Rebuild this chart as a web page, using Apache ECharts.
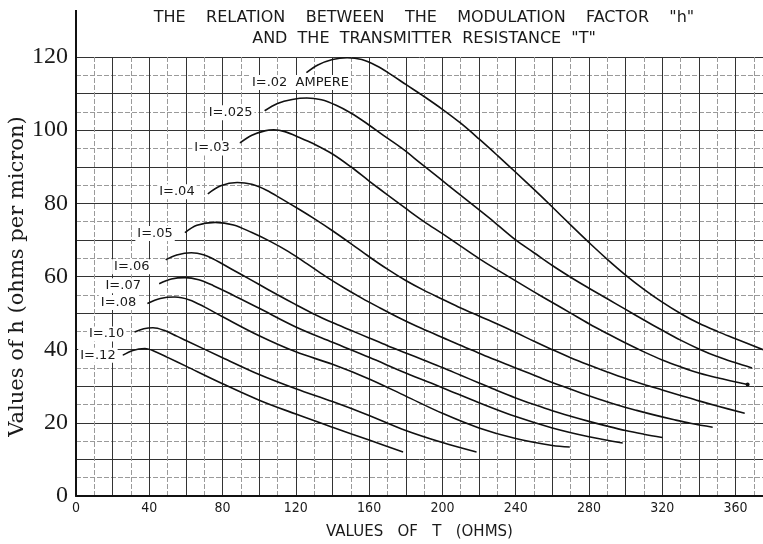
<!DOCTYPE html>
<html>
<head>
<meta charset="utf-8">
<script src="https://cdn.jsdelivr.net/npm/echarts@6/dist/echarts.min.js"></script>
<style>
  html, body { margin: 0; padding: 0; background: #fff; }
  #chart { width: 763px; height: 544px; }
</style>
</head>
<body>
<div id="chart"></div>
<script>
// Modulation factor h (ohms per micron) against transmitter resistance T (ohms),
// one curve per current I (amperes). Each point is [T, h].
const curveNames = ['I=.02  AMPERE', 'I=.025', 'I=.03', 'I=.04', 'I=.05', 'I=.06', 'I=.07', 'I=.08', 'I=.10', 'I=.12'];

const i020 = [[125.8,115.7],[132,117.8],[140,119.3],[148,119.8],[156,119.3],[164,117.6],[172,115.2],[180,112.5],[190,109.2],[200,105.7],[210,101.9],[220,97.6],[230,93.1],[240,88.5],[250,83.8],[260,79],[270,74.1],[280,69.3],[290,64.7],[300,60.4],[310,56.5],[320,53],[330,49.9],[340,47.2],[350,45],[360,43],[375,40]];
const i025 = [[103,105.3],[110,107.3],[118,108.4],[126,108.8],[134,108.3],[142,106.8],[150,104.7],[158,102.1],[168,98.5],[178,95],[188,91],[198,87],[208,83],[218,79],[228,75],[240,70],[250,66.5],[260,63],[270,59.8],[280,56.8],[290,53.9],[300,51],[310,48.1],[320,45.3],[330,42.6],[340,40.2],[350,38.1],[360,36.4],[369,35]];
const i030 = [[89.5,96.5],[96,98.6],[103,99.8],[108,100.1],[114,99.6],[122,98],[130,96.2],[140,93.5],[150,90],[160,86.1],[170,82.3],[180,78.6],[190,75],[200,71.7],[210,68.3],[220,64.9],[230,61.8],[240,58.8],[250,55.8],[260,52.9],[270,50],[280,47.1],[290,44.4],[300,41.8],[310,39.4],[320,37.2],[330,35.3],[340,33.6],[350,32.3],[366.6,30.5]];
const i040 = [[72,82.6],[79,84.8],[88,85.7],[96,85.2],[104,83.6],[112,81.3],[122,78.3],[130,75.8],[140,72.5],[150,69],[160,65.4],[170,62],[180,58.9],[190,56.2],[200,53.8],[210,51.4],[220,49.2],[230,47],[240,44.7],[250,42.3],[260,40],[270,37.8],[280,35.8],[290,33.9],[300,32.1],[310,30.5],[320,29],[330,27.5],[340,26],[350,24.6],[365,22.6]];
const i050 = [[59.5,72],[66,74],[76,74.8],[86,74.1],[96,72],[106,69.6],[116,66.8],[126,63.5],[136,60.1],[146,57],[156,54.1],[166,51.4],[176,48.8],[186,46.4],[196,44.2],[206,42],[216,39.9],[226,37.8],[236,35.8],[246,33.8],[256,31.8],[266,29.9],[276,28.1],[286,26.4],[296,24.8],[306,23.4],[316,22.1],[326,20.9],[336,19.8],[347.5,18.8]];
const i060 = [[49,64.6],[55,65.9],[63,66.5],[70,65.9],[75,64.8],[80,63.4],[90,60.6],[100,57.8],[110,55],[120,52.3],[130,49.7],[140,47.4],[150,45.3],[160,43.2],[170,41.1],[180,39.1],[190,37.1],[200,35.1],[210,33],[220,30.9],[230,28.8],[240,26.8],[250,25],[260,23.3],[270,21.8],[280,20.4],[290,19.1],[300,17.9],[310,16.9],[320,16]];
const i070 = [[45.4,58],[52,59.3],[59.5,59.7],[67,59.1],[75,57.5],[85,55.1],[100,51.3],[120,46.2],[140,42],[160,37.9],[180,33.6],[200,29.6],[220,25.5],[240,21.7],[260,18.6],[280,16.2],[298.4,14.5]];
const i080 = [[39,52.6],[46,54],[54,54.4],[62,53.6],[70,51.7],[80,49],[100,43.8],[120,39.4],[140,36],[160,32],[180,27.3],[200,22.6],[220,18.6],[240,15.7],[260,13.8],[269.5,13.4]];
const i100 = [[32,44.8],[37,45.7],[42,46],[48,45.3],[55,43.7],[60,42.5],[80,37.8],[100,33.2],[120,29.3],[140,25.8],[160,22],[180,17.9],[200,14.6],[218.6,12]];
const i120 = [[25.6,38.5],[31,39.8],[37.6,40.3],[44,39.3],[50,37.9],[60,35.5],[80,30.7],[100,26.2],[120,22.4],[140,18.8],[160,15.3],[178.5,12]];

const curves = [i020, i025, i030, i040, i050, i060, i070, i080, i100, i120];

// Where each curve's name sits relative to the curve's first point.
const labelPlacement = [
  { position: 'bottom', distance: 2, offset: [-6, 0] },
  { position: 'left', distance: 10, offset: [0, 2] },
  { position: 'left', distance: 8, offset: [0, 5] },
  { position: 'left', distance: 11, offset: [0, -2] },
  { position: 'left', distance: 10, offset: [0, 1] },
  { position: 'left', distance: 14, offset: [0, 7] },
  { position: 'left', distance: 16, offset: [0, 2] },
  { position: 'left', distance: 9, offset: [0, -1] },
  { position: 'left', distance: 8, offset: [0, 2] },
  { position: 'left', distance: 5, offset: [0, 0] }
];

// curves that finish with a small dot at their last point
const endDot = [false, false, true, false, false, false, false, false, false, false];

const xTickStep = 40;
const yTickStep = 20;

const chart = echarts.init(document.getElementById('chart'), null, { renderer: 'canvas' });

const series = curves.map((pts, k) => ({
  name: curveNames[k],
  type: 'line',
  smooth: 0.35,
  showSymbol: true,
  showAllSymbol: true,
  symbol: 'circle',
  symbolSize: 0.5,
  itemStyle: { color: '#111' },
  lineStyle: { color: '#111', width: 1.6 },
  emphasis: { disabled: true },
  data: pts.map((p, j) => {
    if (j === 0) {
      return {
        value: p,
        label: {
          show: true,
          position: labelPlacement[k].position,
          distance: labelPlacement[k].distance,
          offset: labelPlacement[k].offset,
          formatter: curveNames[k],
          fontFamily: 'DejaVu Sans',
          fontSize: 13,
          color: '#1a1a1a',
          backgroundColor: '#fff',
          padding: [1, 2]
        }
      };
    }
    if (j === pts.length - 1 && endDot[k]) {
      return { value: p, symbolSize: 4 };
    }
    return p;
  })
}));

chart.setOption({
  animation: false,
  backgroundColor: '#fff',
  title: {
    text: '{a|THE    RELATION    BETWEEN    THE    MODULATION    FACTOR    "h"}\n{a|AND  THE  TRANSMITTER  RESISTANCE  "T"}',
    left: 419,
    top: 2,
    textAlign: 'center',
    textStyle: {
      rich: {
        a: { fontFamily: 'DejaVu Sans', fontWeight: 'normal', fontSize: 16, lineHeight: 21, color: '#1a1a1a', align: 'center' }
      }
    }
  },
  grid: { left: 76, right: 0, top: 57, bottom: 48, containLabel: false, outerBoundsMode: 'none' },
  xAxis: {
    type: 'value',
    min: 0,
    max: 375,
    interval: 20,
    name: 'VALUES   OF   T   (OHMS)',
    nameLocation: 'middle',
    nameGap: 29,
    nameMoveOverlap: false,
    nameTextStyle: { fontFamily: 'DejaVu Sans', fontSize: 15, color: '#1a1a1a' },
    axisLine: { show: true, onZero: false, lineStyle: { color: '#111', width: 2 } },
    axisTick: { show: false },
    axisLabel: {
      margin: 5,
      fontFamily: 'DejaVu Sans Condensed',
      fontSize: 14,
      color: '#1a1a1a',
      showMaxLabel: false,
      formatter: v => (v % xTickStep === 0 ? String(v) : '')
    },
    splitLine: { show: true, lineStyle: { color: '#333', width: 1 } },
    minorTick: { show: false, splitNumber: 2 },
    minorSplitLine: { show: true, lineStyle: { color: '#9a9a9a', width: 1, type: [5, 2] } }
  },
  yAxis: {
    type: 'value',
    min: 0,
    max: 120,
    interval: 10,
    name: 'Values of h (ohms per micron)',
    nameLocation: 'middle',
    nameRotate: 90,
    nameGap: 48,
    nameMoveOverlap: false,
    nameTextStyle: { fontFamily: 'DejaVu Serif', fontSize: 21, color: '#1a1a1a' },
    axisLine: { show: true, onZero: false, lineStyle: { color: '#111', width: 2 } },
    axisTick: { show: false },
    axisLabel: {
      margin: 8,
      fontFamily: 'Liberation Serif',
      fontSize: 24,
      color: '#1a1a1a',
      formatter: v => (v % yTickStep === 0 ? String(v) : '')
    },
    splitLine: { show: true, lineStyle: { color: '#333', width: 1 } },
    minorTick: { show: false, splitNumber: 2 },
    minorSplitLine: { show: true, lineStyle: { color: '#9a9a9a', width: 1, type: [5, 2] } }
  },
  graphic: [
    // vertical axis rule continues up past the top of the grid
    { type: 'line', shape: { x1: 76, y1: 10, x2: 76, y2: 57 }, style: { stroke: '#111', lineWidth: 2 }, silent: true }
  ],
  series: series
});
</script>
</body>
</html>
